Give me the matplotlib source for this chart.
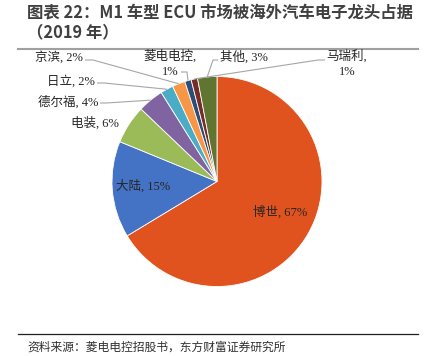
import matplotlib
matplotlib.use("Agg")
import matplotlib.pyplot as plt
import numpy as np

plt.rcParams['font.family'] = ['Liberation Serif', 'Noto Sans CJK SC']

companies = ['博世', '大陆', '电装', '德尔福', '日立', '京滨', '菱电电控', '马瑞利', '其他']
shares = [67, 15, 6, 4, 2, 2, 1, 1, 3]
colors = ['#E0521E', '#4472C4', '#9BBB59', '#8064A2', '#4BACC6',
          '#F79646', '#2C4D75', '#772C2A', '#5F7530']
title_line1 = '图表 22：M1 车型 ECU 市场被海外汽车电子龙头占据'
title_line2 = '（2019 年）'
source_text = '资料来源：菱电电控招股书，东方财富证券研究所'

W, H = 428, 356
fig = plt.figure(figsize=(W / 100, H / 100), dpi=100)

# pie axes
cx, cy, R = 217, 181.5, 105
ax = fig.add_axes([(cx - R) / W, (H - cy - R) / H, 2 * R / W, 2 * R / H])
wedges, _ = ax.pie(shares, colors=colors, startangle=90, counterclock=False,
                   radius=1.0, wedgeprops=dict(edgecolor='white', linewidth=0.6))
ax.set_xlim(-1, 1)
ax.set_ylim(-1, 1)
ax.set_aspect('equal')
ax.axis('off')

# overlay in pixel coordinates (y downward), drawn on top
ov = fig.add_axes([0, 0, 1, 1])
ov.set_xlim(0, W)
ov.set_ylim(H, 0)
ov.axis('off')
ov.patch.set_alpha(0)
ov.set_zorder(10)


def wedge_point(i, r=1.0):
    w = wedges[i]
    a = np.deg2rad((w.theta1 + w.theta2) / 2)
    disp = ax.transData.transform((r * np.cos(a), r * np.sin(a)))
    return ov.transData.inverted().transform(disp)


lab_font = dict(fontsize=9, color='#262626')
lc = '#A6A6A6'

def lbl(i):
    return f'{companies[i]}, {shares[i]}%'

# inside labels
ov.text(143, 186, lbl(1), ha='center', va='center', **lab_font)
ov.text(280, 212, lbl(0), ha='center', va='center', **lab_font)
# outside labels
ov.text(95, 123, lbl(2), ha='center', va='center', **lab_font)
ov.text(98, 102, lbl(3), ha='right', va='center', **lab_font)
ov.text(95, 81, lbl(4), ha='right', va='center', **lab_font)
ov.text(83, 57, lbl(5), ha='right', va='center', **lab_font)
ov.text(170, 56, companies[6] + ',', ha='center', va='center', **lab_font)
ov.text(170, 72, f'{shares[6]}%', ha='center', va='center', **lab_font)
ov.text(347, 56, companies[7] + ',', ha='center', va='center', **lab_font)
ov.text(347, 72, f'{shares[7]}%', ha='center', va='center', **lab_font)
ov.text(220, 57, lbl(8), ha='left', va='center', **lab_font)

# leader lines
def leader(i, pts):
    p = wedge_point(i, 1.0)
    xs = [q[0] for q in pts] + [p[0]]
    ys = [q[1] for q in pts] + [p[1]]
    ov.plot(xs, ys, color=lc, lw=0.8, solid_capstyle='butt')

leader(3, [(100, 103), (106, 103)])
leader(4, [(97, 83), (104, 83)])
leader(5, [(85, 60), (93, 60)])
leader(6, [(181, 72), (187, 72)])
leader(8, [(218, 60), (213, 60)])
leader(7, [(325, 60), (318, 60)])

# title
ov.text(27, 12, title_line1, ha='left', va='center', fontsize=11.8,
        fontweight='bold', color='#404040', family=['Noto Sans CJK SC'])
ov.text(27, 32, title_line2, ha='left', va='center', fontsize=11.8,
        fontweight='bold', color='#404040', family=['Noto Sans CJK SC'])
ov.plot([18, 418], [48.5, 48.5], color='#A0A0A0', lw=1.5)
ov.plot([18, 418], [334, 334], color='#202020', lw=0.9)
ov.text(27, 347, source_text, ha='left', va='center', fontsize=8.5,
        color='#303030', family=['Noto Sans CJK SC'])

fig.savefig('out.png', dpi=100)
